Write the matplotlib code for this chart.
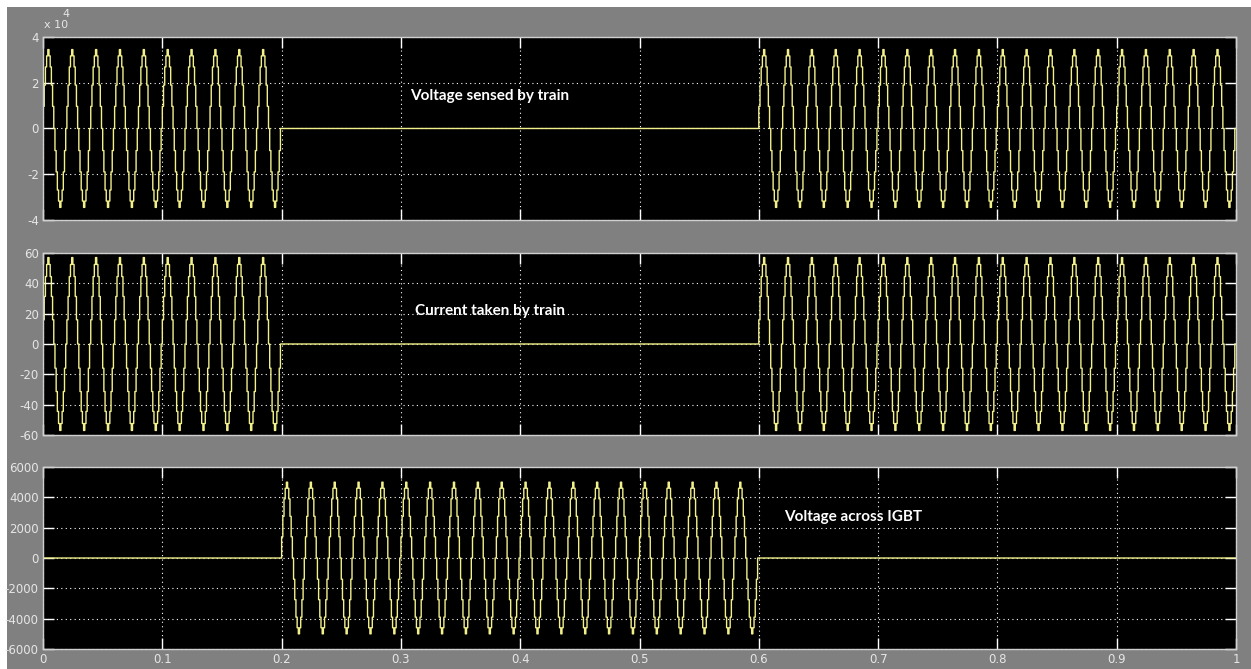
import numpy as np
import matplotlib.pyplot as plt
from matplotlib.patches import Rectangle

# one 20 ms cycle of the stepped waveform, per unit, one level per 1 ms step
cycle_levels = [0.28, 0.55, 0.78, 0.92, 1.0, 0.92, 0.78, 0.55, 0.28, 0.0,
                -0.28, -0.55, -0.78, -0.92, -1.0, -0.92, -0.78, -0.55, -0.28, 0.0]
step = 0.001  # s per level

# peak values
v_train_peak = 3.45e4
i_train_peak = 57.0
v_igbt_peak = 5000.0

# switching instants (s)
train_on = [(0.0, 0.2), (0.6, 1.0)]
igbt_on = [(0.2, 0.6)]

panel_titles = ['Voltage sensed by train', 'Current taken by train', 'Voltage across IGBT']
title_pos = [(0.308, 1.42e4), (0.312, 21.8), (0.621, 2700)]
y_ticks = [[-4e4, -2e4, 0, 2e4, 4e4],
           [-60, -40, -20, 0, 20, 40, 60],
           [-6000, -4000, -2000, 0, 2000, 4000, 6000]]
y_ticklabels = [['-4', '-2', '0', '2', '4'],
                ['-60', '-40', '-20', '0', '20', '40', '60'],
                ['-6000', '-4000', '-2000', '0', '2000', '4000', '6000']]
x_ticks = [0, 0.1, 0.2, 0.3, 0.4, 0.5, 0.6, 0.7, 0.8, 0.9, 1.0]
x_ticklabels = ['0', '0.1', '0.2', '0.3', '0.4', '0.5', '0.6', '0.7', '0.8', '0.9', '1']

t = np.arange(0, 1.0, step)
base = np.tile(cycle_levels, len(t) // len(cycle_levels) + 1)[:len(t)]


def gated(peak, windows):
    on = np.zeros_like(t, dtype=bool)
    for a, b in windows:
        on |= (t >= a - 1e-9) & (t < b - 1e-9)
    return np.where(on, peak * base, 0.0)


signals = [gated(v_train_peak, train_on),
           gated(i_train_peak, train_on),
           gated(v_igbt_peak, igbt_on)]

grey = '#808080'
tick_font = ['Liberation Sans Narrow', 'DejaVu Sans']

fig = plt.figure(figsize=(12.51, 6.69), dpi=100, facecolor='white')
fig.patches.append(Rectangle((7 / 1251, 0), 1, 1 - 7 / 669, transform=fig.transFigure,
                             facecolor=grey, edgecolor='none', zorder=-10))

positions = [[0.0344, 0.6712, 0.9536, 0.2735],
             [0.0344, 0.3498, 0.9536, 0.2720],
             [0.0344, 0.0299, 0.9536, 0.2720]]

for k, (pos, sig) in enumerate(zip(positions, signals)):
    ax = fig.add_axes(pos)
    ax.set_facecolor('black')
    ax.plot(np.append(t, 1.0), np.append(sig, sig[-1]), drawstyle='steps-post',
            color='#f2f08a', lw=1.0)
    ax.set_xlim(0, 1)
    ax.set_ylim(y_ticks[k][0], y_ticks[k][-1])
    ax.set_yticks(y_ticks[k])
    ax.set_yticklabels(y_ticklabels[k], family=tick_font, fontsize=8.5, color='#e6e6e6')
    ax.set_xticks(x_ticks)
    if k == 2:
        ax.set_xticklabels(x_ticklabels, family=tick_font, fontsize=8.5, color='#e6e6e6')
    else:
        ax.set_xticklabels([])
    ax.tick_params(direction='in', length=8, width=1, color='white',
                   top=True, right=True, pad=3)
    ax.grid(True, color='white', linestyle=(0, (1, 3)), linewidth=0.8)
    for s in ax.spines.values():
        s.set_color('#d0d0d0')
        s.set_linewidth(1.0)
    ax.text(title_pos[k][0], title_pos[k][1], panel_titles[k], color='white',
            family='Lato', weight='bold', fontsize=11, va='center', ha='left')
    if k == 0:
        ax.text(0.001, 1.04, 'x 10', transform=ax.transAxes, family=tick_font,
                fontsize=8, color='#e6e6e6', ha='left', va='bottom')
        ax.text(0.016, 1.10, '4', transform=ax.transAxes, family=tick_font,
                fontsize=8, color='#e6e6e6', ha='left', va='bottom')

fig.savefig('out.png', dpi=100, facecolor=fig.get_facecolor())
